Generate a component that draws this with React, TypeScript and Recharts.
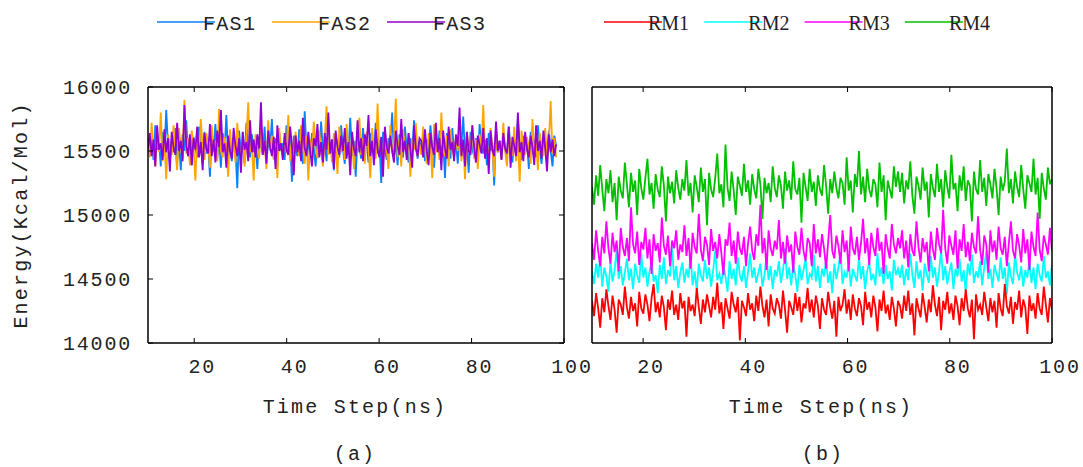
import { LineChart, Line, XAxis, YAxis } from 'recharts';

// Total energy traces (Kcal/Mol)
const FAS1 = [
  15560, 15480, 15620, 15430, 15700, 15510, 15590, 15380, 15650, 15470, 15820, 15530, 15410, 15600, 15490,
  15680, 15420, 15570, 15350, 15630, 15500, 15740, 15460, 15580, 15390, 15610, 15520, 15450, 15690, 15540,
  15400, 15650, 15480, 15560, 15300, 15620, 15510, 15710, 15440, 15590, 15370, 15640, 15500, 15780, 15460,
  15570, 15420, 15600, 15530, 15210, 15660, 15480, 15550, 15400, 15720, 15510, 15450, 15630, 15490, 15580,
  15360, 15610, 15540, 15470, 15690, 15420, 15570, 15520, 15750, 15440, 15600, 15380, 15650, 15500, 15560,
  15430, 15700, 15480, 15590, 15260, 15620, 15510, 15460, 15670, 15530, 15400, 15810, 15490, 15570, 15440,
  15640, 15520, 15380, 15600, 15470, 15730, 15500, 15560, 15420, 15660, 15480, 15590, 15350, 15620, 15540,
  15450, 15700, 15510, 15400, 15630, 15490, 15760, 15460, 15580, 15300, 15610, 15530, 15440, 15680, 15500,
  15570, 15410, 15640, 15520, 15470, 15720, 15480, 15590, 15250, 15650, 15510, 15430, 15600, 15540, 15800,
  15460, 15570, 15390, 15630, 15500, 15450, 15690, 15520, 15410, 15600, 15480, 15740, 15530, 15440, 15580,
  15510, 15630, 15420, 15590, 15480, 15700, 15530, 15370, 15610, 15500, 15660, 15450, 15570, 15290, 15640,
  15520, 15440, 15680, 15490, 15580, 15400, 15620, 15540, 15770, 15470, 15560, 15330, 15650, 15510, 15460,
  15600, 15420, 15710, 15530, 15480, 15590, 15390, 15640, 15500, 15560, 15230, 15670, 15490, 15580, 15440,
  15630, 15510, 15460, 15690, 15520, 15410, 15600, 15480, 15750, 15540, 15430, 15620, 15500, 15570, 15360,
  15650, 15490, 15590, 15450, 15700, 15520, 15400, 15610, 15530, 15470, 15660, 15500, 15380, 15620, 15540,
];
const FAS2 = [
  15600, 15450, 15720, 15510, 15380, 15650, 15490, 15800, 15420, 15580, 15280, 15630, 15540, 15470, 15700,
  15500, 15350, 15680, 15520, 15440, 15900, 15480, 15600, 15390, 15660, 15530, 15270, 15620, 15460, 15750,
  15510, 15430, 15640, 15560, 15370, 15700, 15490, 15580, 15420, 15830, 15500, 15450, 15610, 15540, 15300,
  15670, 15480, 15590, 15410, 15720, 15520, 15460, 15650, 15380, 15600, 15880, 15490, 15550, 15270, 15630,
  15510, 15440, 15690, 15470, 15580, 15360, 15740, 15500, 15620, 15430, 15560, 15290, 15680, 15520, 15450,
  15610, 15490, 15780, 15420, 15570, 15340, 15650, 15510, 15460, 15700, 15530, 15400, 15620, 15270, 15590,
  15480, 15730, 15520, 15440, 15660, 15500, 15380, 15600, 15850, 15470, 15560, 15410, 15640, 15530, 15320,
  15690, 15490, 15580, 15430, 15710, 15510, 15450, 15620, 15360, 15580, 15520, 15760, 15470, 15600, 15400,
  15650, 15530, 15290, 15680, 15500, 15440, 15870, 15490, 15570, 15420, 15630, 15510, 15360, 15700, 15480,
  15560, 15910, 15450, 15600, 15380, 15670, 15520, 15470, 15640, 15300, 15590, 15510, 15720, 15460, 15560,
  15470, 15690, 15520, 15400, 15640, 15560, 15290, 15710, 15490, 15580, 15430, 15800, 15510, 15460, 15620,
  15380, 15670, 15530, 15450, 15600, 15500, 15740, 15420, 15570, 15280, 15650, 15520, 15480, 15700, 15440,
  15590, 15360, 15630, 15510, 15860, 15470, 15560, 15410, 15680, 15530, 15300, 15620, 15490, 15570, 15440,
  15720, 15500, 15380, 15640, 15550, 15460, 15690, 15420, 15590, 15260, 15660, 15510, 15470, 15610, 15530,
  15400, 15750, 15490, 15580, 15350, 15640, 15520, 15460, 15680, 15430, 15570, 15890, 15480, 15600, 15450,
];
const FAS3 = [
  15520, 15640, 15460, 15590, 15380, 15700, 15510, 15560, 15430, 15670, 15490, 15600, 15340, 15650, 15530,
  15470, 15720, 15500, 15580, 15420, 15860, 15540, 15460, 15630, 15390, 15600, 15510, 15690, 15450, 15570,
  15350, 15640, 15520, 15480, 15710, 15460, 15590, 15410, 15660, 15530, 15820, 15490, 15560, 15370, 15620,
  15500, 15440, 15680, 15540, 15460, 15600, 15330, 15650, 15510, 15570, 15420, 15740, 15490, 15590, 15450,
  15630, 15520, 15880, 15470, 15580, 15400, 15660, 15530, 15460, 15610, 15360, 15700, 15500, 15560, 15430,
  15640, 15510, 15470, 15690, 15540, 15310, 15620, 15490, 15580, 15420, 15760, 15520, 15460, 15650, 15500,
  15380, 15600, 15540, 15710, 15450, 15570, 15410, 15640, 15510, 15800, 15480, 15590, 15360, 15660, 15530,
  15470, 15620, 15500, 15680, 15440, 15570, 15310, 15650, 15520, 15460, 15740, 15490, 15600, 15420, 15630,
  15540, 15780, 15460, 15580, 15390, 15670, 15510, 15450, 15610, 15300, 15690, 15530, 15480, 15620, 15500,
  15410, 15660, 15540, 15470, 15750, 15490, 15580, 15430, 15640, 15510, 15370, 15700, 15520, 15460, 15600,
  15580, 15450, 15670, 15500, 15390, 15640, 15530, 15470, 15720, 15490, 15600, 15350, 15660, 15520, 15440,
  15690, 15510, 15570, 15420, 15630, 15540, 15840, 15460, 15590, 15380, 15650, 15500, 15470, 15700, 15530,
  15410, 15620, 15550, 15480, 15680, 15440, 15600, 15320, 15660, 15510, 15460, 15730, 15500, 15580, 15430,
  15640, 15520, 15480, 15690, 15370, 15610, 15540, 15460, 15800, 15490, 15570, 15420, 15650, 15510, 15450,
  15620, 15530, 15390, 15700, 15500, 15580, 15440, 15660, 15520, 15340, 15630, 15490, 15590, 15460, 15550,
];

const RM1 = [
  14330, 14210, 14390, 14270, 14120, 14350, 14240, 14420, 14290, 14180, 14370, 14260, 14080, 14340, 14300,
  14220, 14440, 14280, 14190, 14360, 14250, 14310, 14130, 14400, 14270, 14230, 14380, 14300, 14170, 14350,
  14460, 14240, 14320, 14200, 14370, 14280, 14100, 14340, 14260, 14410, 14220, 14300, 14180, 14390, 14270,
  14330, 14050, 14360, 14250, 14300, 14210, 14430, 14280, 14150, 14340, 14240, 14380, 14290, 14200, 14360,
  14260, 14470, 14230, 14320, 14110, 14350, 14270, 14190, 14400, 14300, 14240, 14360, 14020, 14330, 14280,
  14210, 14390, 14260, 14310, 14170, 14370, 14250, 14440, 14290, 14200, 14340, 14130, 14380, 14270, 14230,
  14350, 14300, 14190, 14410, 14260, 14080, 14330, 14280, 14220, 14390, 14250, 14360, 14160, 14310, 14270,
  14430, 14240, 14340, 14200, 14370, 14290, 14110, 14350, 14260, 14220, 14400, 14280, 14190, 14330, 14050,
  14360, 14250, 14300, 14420, 14230, 14340, 14180, 14380, 14270, 14210, 14350, 14290, 14140, 14400, 14260,
  14320, 14200, 14370, 14280, 14090, 14340, 14250, 14410, 14230, 14300, 14180, 14360, 14270, 14130, 14330,
  14290, 14190, 14370, 14250, 14410, 14220, 14310, 14060, 14350, 14270, 14200, 14390, 14280, 14160, 14340,
  14240, 14450, 14300, 14210, 14360, 14100, 14330, 14260, 14400, 14230, 14310, 14180, 14370, 14290, 14140,
  14350, 14250, 14420, 14270, 14200, 14340, 14030, 14380, 14260, 14300, 14220, 14400, 14280, 14170, 14350,
  14240, 14330, 14120, 14390, 14270, 14210, 14460, 14290, 14230, 14360, 14150, 14320, 14260, 14410, 14200,
  14340, 14280, 14070, 14370, 14250, 14310, 14190, 14390, 14270, 14220, 14440, 14300, 14160, 14350, 14260,
];
const RM2 = [
  14560, 14460, 14620, 14510, 14680, 14440, 14590, 14520, 14400, 14640, 14480, 14570, 14730, 14500, 14600,
  14450, 14550, 14660, 14490, 14580, 14420, 14620, 14530, 14470, 14700, 14510, 14590, 14440, 14560, 14640,
  14480, 14530, 14390, 14610, 14500, 14670, 14460, 14570, 14520, 14750, 14490, 14600, 14430, 14550, 14630,
  14470, 14580, 14510, 14690, 14450, 14560, 14410, 14620, 14530, 14480, 14650, 14500, 14590, 14440, 14570,
  14720, 14490, 14540, 14460, 14610, 14520, 14400, 14640, 14500, 14580, 14450, 14670, 14530, 14480, 14600,
  14430, 14560, 14700, 14510, 14590, 14470, 14550, 14620, 14440, 14530, 14680, 14490, 14600, 14420, 14570,
  14520, 14640, 14470, 14560, 14740, 14500, 14590, 14450, 14620, 14530, 14400, 14610, 14490, 14570, 14660,
  14460, 14540, 14510, 14690, 14480, 14600, 14430, 14580, 14520, 14650, 14470, 14560, 14390, 14620, 14500,
  14590, 14710, 14460, 14550, 14510, 14640, 14440, 14580, 14530, 14480, 14670, 14500, 14600, 14420, 14560,
  14630, 14490, 14540, 14450, 14700, 14520, 14590, 14460, 14610, 14500, 14560, 14410, 14650, 14530, 14580,
  14510, 14610, 14450, 14580, 14490, 14700, 14530, 14430, 14640, 14500, 14570, 14410, 14620, 14540, 14470,
  14680, 14510, 14590, 14440, 14560, 14730, 14490, 14600, 14460, 14550, 14630, 14420, 14580, 14520, 14660,
  14480, 14570, 14400, 14620, 14530, 14690, 14470, 14560, 14510, 14640, 14450, 14590, 14720, 14500, 14580,
  14430, 14610, 14540, 14480, 14670, 14500, 14590, 14380, 14630, 14520, 14460, 14700, 14550, 14490, 14600,
  14440, 14570, 14510, 14650, 14470, 14590, 14420, 14620, 14530, 14480, 14680, 14510, 14560, 14450, 14610,
];
const RM3 = [
  14780, 14650, 14880, 14720, 14600, 14830, 14700, 14950, 14740, 14620, 14860, 14710, 14800, 14560, 14900,
  14750, 14680, 14820, 14640, 15060, 14770, 14700, 14870, 14610, 14790, 14730, 14900, 14660, 14810, 14540,
  14850, 14720, 14780, 14630, 14980, 14760, 14690, 14840, 14600, 14800, 14740, 14880, 14650, 14770, 14710,
  14920, 14680, 14820, 14580, 14860, 14750, 14700, 15010, 14730, 14640, 14830, 14770, 14610, 14890, 14720,
  14790, 14660, 14850, 14700, 14530, 14810, 14760, 14940, 14680, 14800, 14620, 14870, 14740, 14690, 14830,
  14600, 14780, 14910, 14720, 14650, 14850, 14760, 15080, 14700, 14820, 14570, 14880, 14740, 14680, 14800,
  14730, 14960, 14660, 14790, 14620, 14840, 14710, 14770, 14550, 14870, 14750, 14690, 14900, 14720, 14640,
  14820, 14780, 14600, 14930, 14700, 14810, 14670, 14850, 14740, 14580, 14790, 15000, 14720, 14660, 14840,
  14760, 14620, 14880, 14710, 14800, 14560, 14910, 14740, 14690, 14830, 14650, 14780, 14970, 14700, 14820,
  14610, 14860, 14750, 14680, 14900, 14720, 14790, 14540, 14850, 14740, 14660, 14930, 14770, 14700, 14820,
  14740, 14880, 14660, 14800, 14590, 14850, 14720, 14680, 14950, 14750, 14630, 14820, 14710, 14790, 14560,
  14870, 14730, 14650, 14900, 14770, 14700, 15040, 14740, 14620, 14840, 14760, 14690, 14880, 14580, 14810,
  14720, 14930, 14670, 14790, 14640, 14860, 14750, 14700, 14990, 14730, 14610, 14840, 14770, 14550, 14880,
  14710, 14800, 14650, 14910, 14740, 14690, 14830, 14600, 14780, 14950, 14720, 14660, 14850, 14760, 14630,
  14890, 14700, 14810, 14570, 14870, 14750, 14680, 15020, 14730, 14640, 14840, 14770, 14690, 14900, 14720,
];
const RM4 = [
  15220, 15080, 15310, 15150, 15390, 15200, 15030, 15280, 15170, 15350, 15100, 15250, 14960, 15300, 15190,
  15130, 15410, 15240, 15060, 15330, 15180, 15270, 15000, 15360, 15210, 15120, 15290, 15440, 15160, 15250,
  15050, 15320, 15200, 15140, 15380, 15230, 14950, 15300, 15170, 15260, 15090, 15350, 15210, 15120, 15280,
  15190, 15430, 15150, 15250, 15020, 15310, 15220, 15100, 15370, 15180, 15280, 14920, 15330, 15200, 15140,
  15290, 15480, 15170, 15240, 15060, 15550, 15210, 15110, 15340, 15190, 15000, 15300, 15230, 15150, 15400,
  15180, 15270, 15080, 15320, 15200, 15130, 15360, 15240, 14970, 15290, 15170, 15250, 15100, 15380, 15210,
  15140, 15310, 15230, 15050, 15340, 15190, 15270, 15120, 15420, 15200, 15160, 15290, 14940, 15330, 15220,
  15110, 15360, 15180, 15260, 15070, 15310, 15200, 15150, 15390, 15230, 15010, 15280, 15170, 15340, 15210,
  15130, 15290, 15250, 15080, 15450, 15190, 15270, 15020, 15320, 15220, 15500, 15160, 15300, 15100, 15360,
  15200, 15140, 15280, 15240, 15060, 15410, 15180, 15310, 14960, 15270, 15200, 15130, 15380, 15220, 15340,
  15180, 15330, 15090, 15270, 15200, 15420, 15150, 15010, 15300, 15230, 15120, 15370, 15190, 15260, 14980,
  15320, 15210, 15140, 15400, 15180, 15280, 15060, 15350, 15220, 15130, 15470, 15200, 15250, 15030, 15310,
  15190, 15380, 15110, 15270, 15230, 14950, 15340, 15200, 15160, 15430, 15180, 15290, 15070, 15320, 15240,
  15130, 15360, 15210, 15000, 15300, 15190, 15260, 15520, 15170, 15280, 15090, 15340, 15220, 15140, 15390,
  15200, 15050, 15310, 15250, 15180, 15440, 15160, 15290, 14970, 15330, 15210, 15120, 15370, 15240, 15280,
];

const X_TICKS = [20, 40, 60, 80, 100];
const Y_TICKS = [14000, 14500, 15000, 15500, 16000];

const FAS_SERIES = [
  { key: 'FAS1', values: FAS1, color: '#0a80ff' },
  { key: 'FAS2', values: FAS2, color: '#ffa500' },
  { key: 'FAS3', values: FAS3, color: '#9400d3' },
];
const RM_SERIES = [
  { key: 'RM1', values: RM1, color: '#ff0000' },
  { key: 'RM2', values: RM2, color: '#00ffff' },
  { key: 'RM3', values: RM3, color: '#ff00ff' },
  { key: 'RM4', values: RM4, color: '#00c000' },
];
// cyan sits underneath its neighbours in the original
const RM_DRAW_ORDER = ['RM2', 'RM1', 'RM3', 'RM4'];

const MONO = "'Liberation Mono', 'Courier New', monospace";
const SERIF = "'Liberation Serif', 'Times New Roman', serif";

type Series = { key: string; values: number[]; color: string };

// samples are evenly spaced in time
function buildRows(series: Series[], start: number, end: number) {
  const n = series[0].values.length;
  const step = (end - start) / (n - 1);
  return series[0].values.map((_, i) => {
    const row: Record<string, number> = { t: start + i * step };
    series.forEach((s) => {
      row[s.key] = s.values[i];
    });
    return row;
  });
}

const fasRows = buildRows(FAS_SERIES, 10, 98.3);
const rmRows = buildRows(RM_SERIES, 10, 100);

function BottomTick({ x, y, payload }: any) {
  return (
    <g>
      <line x1={x} x2={x} y1={y} y2={y - 5} stroke="#000" />
      <text x={x + 8} y={y + 30} textAnchor="middle" fontFamily={MONO} fontSize={20} letterSpacing={1.8} fill="#222">
        {payload.value}
      </text>
    </g>
  );
}

function TopTick({ x, y }: any) {
  return <line x1={x} x2={x} y1={y} y2={y + 5} stroke="#000" />;
}

function LeftTick({ x, y, payload }: any) {
  return (
    <g>
      <line x1={x} x2={x + 5} y1={y} y2={y} stroke="#000" />
      <text x={x - 16} y={y + 7} textAnchor="end" fontFamily={MONO} fontSize={20} letterSpacing={1.8} fill="#222">
        {payload.value}
      </text>
    </g>
  );
}

function RightTick({ x, y }: any) {
  return <line x1={x} x2={x - 5} y1={y} y2={y} stroke="#000" />;
}

const axisLine = { stroke: '#000', strokeWidth: 1.5 };

function Panel({ rows, series, width, leftWidth, rightMargin, yLabels }: {
  rows: Record<string, number>[];
  series: Series[];
  width: number;
  leftWidth: number;
  rightMargin: number;
  yLabels: boolean;
}) {
  return (
    <LineChart width={width} height={467} data={rows} margin={{ top: 86, right: rightMargin, bottom: 0, left: 0 }}>
      <XAxis
        dataKey="t"
        type="number"
        domain={[10, 100]}
        ticks={X_TICKS}
        allowDataOverflow
        height={124}
        tickSize={0}
        tickMargin={0}
        axisLine={axisLine}
        tick={<BottomTick />}
      />
      <XAxis
        xAxisId="top"
        orientation="top"
        dataKey="t"
        type="number"
        domain={[10, 100]}
        ticks={X_TICKS}
        allowDataOverflow
        height={1}
        tickSize={0}
        tickMargin={0}
        axisLine={axisLine}
        tick={<TopTick />}
      />
      <YAxis
        type="number"
        domain={[14000, 16000]}
        ticks={Y_TICKS}
        allowDataOverflow
        width={leftWidth}
        tickSize={0}
        tickMargin={0}
        axisLine={axisLine}
        tick={yLabels ? <LeftTick /> : false}
      />
      <YAxis
        yAxisId="right"
        orientation="right"
        type="number"
        domain={[14000, 16000]}
        ticks={Y_TICKS}
        allowDataOverflow
        width={1}
        tickSize={0}
        tickMargin={0}
        axisLine={axisLine}
        tick={yLabels ? <RightTick /> : false}
      />
      {series.map((s) => (
        <Line
          key={s.key}
          dataKey={s.key}
          stroke={s.color}
          strokeWidth={1.8}
          dot={false}
          isAnimationActive={false}
        />
      ))}
    </LineChart>
  );
}

export default function App() {
  const rmDrawn = RM_DRAW_ORDER.map((k) => RM_SERIES.find((s) => s.key === k) as Series);
  return (
    <div style={{ position: 'absolute', left: 0, top: 0, width: 1083, height: 467, background: '#fff' }}>
      <div style={{ position: 'absolute', left: 0, top: 0 }}>
        <Panel rows={fasRows} series={FAS_SERIES} width={600} leftWidth={148} rightMargin={35} yLabels />
      </div>
      <div style={{ position: 'absolute', left: 580, top: 0 }}>
        <Panel rows={rmRows} series={rmDrawn} width={503} leftWidth={12} rightMargin={30} yLabels={false} />
      </div>
      <svg width={1083} height={467} style={{ position: 'absolute', left: 0, top: 0, pointerEvents: 'none' }}>
        {FAS_SERIES.map((s, i) => (
          <g key={s.key}>
            <line x1={157 + i * 115} x2={215 + i * 115} y1={22} y2={22} stroke={s.color} strokeWidth={1.5} />
            <text x={203 + i * 115} y={30} fontFamily={MONO} fontSize={20} letterSpacing={1.3} fill="#222">
              {s.key}
            </text>
          </g>
        ))}
        {RM_SERIES.map((s, i) => (
          <g key={s.key}>
            <line x1={604 + i * 100.3} x2={662 + i * 100.3} y1={22} y2={22} stroke={s.color} strokeWidth={1.5} />
            <text x={648 + i * 100.3} y={30} fontFamily={SERIF} fontSize={20} fill="#222">
              {s.key}
            </text>
          </g>
        ))}
        <text x={355} y={413} textAnchor="middle" fontFamily={MONO} fontSize={20} letterSpacing={2.2} fill="#222">
          Time Step(ns)
        </text>
        <text x={821} y={413} textAnchor="middle" fontFamily={MONO} fontSize={20} letterSpacing={2.2} fill="#222">
          Time Step(ns)
        </text>
        <text x={355} y={460} textAnchor="middle" fontFamily={MONO} fontSize={20} letterSpacing={2.2} fill="#222">
          (a)
        </text>
        <text x={823} y={460} textAnchor="middle" fontFamily={MONO} fontSize={20} letterSpacing={2.2} fill="#222">
          (b)
        </text>
        <text
          x={27}
          y={215}
          transform="rotate(-90 27 215)"
          textAnchor="middle"
          fontFamily={MONO}
          fontSize={20}
          letterSpacing={2.2}
          fill="#222"
        >
          Energy(Kcal/Mol)
        </text>
      </svg>
    </div>
  );
}
